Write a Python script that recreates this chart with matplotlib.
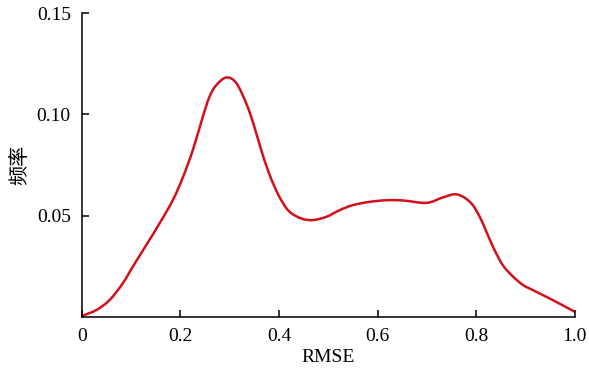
import matplotlib
matplotlib.use("Agg")
import matplotlib.pyplot as plt
from matplotlib.path import Path
from matplotlib.patches import PathPatch
import numpy as np

rmse = [0.0, 0.0288, 0.0558, 0.0828, 0.1031, 0.1304, 0.1574, 0.1844, 0.2047,
        0.225, 0.2453, 0.2589, 0.2725, 0.2928, 0.3131, 0.3350, 0.3503, 0.3639,
        0.3773, 0.3909, 0.4045, 0.4213, 0.4451, 0.468, 0.4958, 0.5228, 0.5499,
        0.5838, 0.6177, 0.651, 0.699, 0.7326, 0.760, 0.787, 0.807, 0.834, 0.854,
        0.875, 0.895, 0.915, 0.956, 1.0]
freq = [0.0005, 0.0033, 0.0082, 0.0165, 0.0247, 0.0354, 0.0461, 0.0576, 0.0688,
        0.0823, 0.0988, 0.1087, 0.1144, 0.1182, 0.1155, 0.1045, 0.0935, 0.0823,
        0.0725, 0.0642, 0.0576, 0.0519, 0.0486, 0.0478, 0.0494, 0.0527, 0.0552,
        0.0568, 0.0576, 0.0575, 0.0563, 0.0590, 0.0605, 0.0568, 0.0494, 0.0346,
        0.0255, 0.0198, 0.0157, 0.0132, 0.0082, 0.0025]

xticks = [0, 0.2, 0.4, 0.6, 0.8, 1.0]
xticklabels = ["0", "0.2", "0.4", "0.6", "0.8", "1.0"]
yticks = [0.05, 0.10, 0.15]
yticklabels = ["0.05", "0.10", "0.15"]

fig = plt.figure(figsize=(5.89, 3.75), dpi=100)
ax = fig.add_axes([0.139, 0.155, 0.837, 0.81])
ax.set_xlim(0, 1.0)
ax.set_ylim(0, 0.15)

# smooth curve through the read points (Catmull-Rom as cubic Bezier path)
P = np.column_stack([rmse, freq])
verts = [tuple(P[0])]
codes = [Path.MOVETO]
n = len(P)
for i in range(n - 1):
    p0 = P[i - 1] if i > 0 else P[i]
    p1 = P[i]
    p2 = P[i + 1]
    p3 = P[i + 2] if i + 2 < n else P[i + 1]
    c1 = p1 + (p2 - p0) / 6.0
    c2 = p2 - (p3 - p1) / 6.0
    verts += [tuple(c1), tuple(c2), tuple(p2)]
    codes += [Path.CURVE4] * 3
ax.add_patch(PathPatch(Path(verts, codes), facecolor="none", edgecolor="#d2101c",
                       lw=1.8, capstyle="round", joinstyle="round"))

for s in ["top", "right"]:
    ax.spines[s].set_visible(False)
for s in ["left", "bottom"]:
    ax.spines[s].set_linewidth(1.1)
ax.set_xticks(xticks)
ax.set_xticklabels(xticklabels, family="Liberation Serif", fontsize=14)
ax.set_yticks(yticks)
ax.set_yticklabels(yticklabels, family="Liberation Serif", fontsize=14)
ax.tick_params(direction="in", length=5, width=1.1, pad=8)
ax.set_xlabel("RMSE", family="Liberation Serif", fontsize=14, labelpad=3)
ax.set_ylabel("频率", family=["Noto Sans CJK SC", "DejaVu Sans"], fontsize=14.5)
ax.yaxis.set_label_coords(-0.105, 0.5)
fig.savefig("out.png", dpi=100)
